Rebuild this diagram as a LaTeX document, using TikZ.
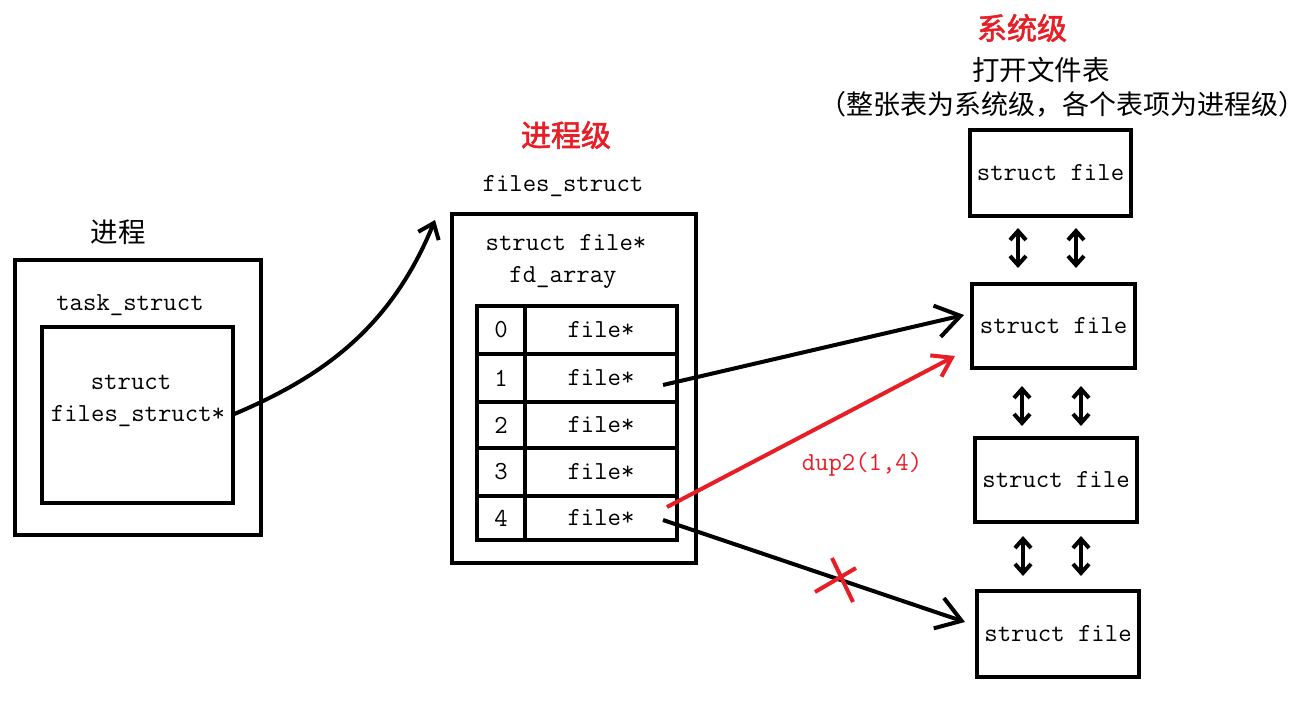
\documentclass[tikz,border=0pt]{standalone}
\usepackage{fontspec}
\setmainfont{Liberation Serif}
\newfontfamily\cjk{Noto Sans CJK SC}
\newfontfamily\cjkb[FakeBold=2]{Noto Sans CJK SC}
\usetikzlibrary{arrows.meta}
\definecolor{myred}{RGB}{232,30,38}
\tikzset{
  box/.style={draw, line width=4pt, inner sep=0pt},
  lbl/.style={inner sep=0pt, font=\ttfamily\fontsize{26}{26}\selectfont},
  zh/.style={inner sep=0pt, font=\cjk\fontsize{27.5}{27.5}\selectfont},
  ttl/.style={inner sep=0pt, text=myred, font=\cjkb\fontsize{30}{30}\selectfont},
  bigptr/.style={line width=4pt, -{Straight Barb[length=24pt,width=32pt]}},
  redptr/.style={line width=4pt, myred, -{Straight Barb[length=18pt,width=24pt]}},
  curveptr/.style={line width=4pt, -{Straight Barb[length=14pt,width=22pt]}},
  dbl/.style={line width=4pt, {Straight Barb[length=9pt,width=16pt]}-{Straight Barb[length=9pt,width=16pt]}},
  idx/.style={box, minimum width=48pt},
  cell/.style={box, minimum width=152pt},
}
\begin{document}
\begin{tikzpicture}[x=1pt,y=-1pt]
\useasboundingbox (0,0) rectangle (1308,714);

% process
\node[zh] (proclbl) at (118,232) {进程};
\node[box, minimum width=246pt, minimum height=275pt] (proc) at (138,397.5) {};
\node[lbl] (tasklbl) at (130,305) {task\_struct};
\node[box, minimum width=191pt, minimum height=176pt] (task) at (137.5,415) {};
\node[lbl] (ts1) at (131,382) {struct};
\node[lbl] (ts2) at (138,416) {files\_struct*};

% files_struct
\node[ttl] (t1) at (566,135) {进程级};
\node[lbl] (fslbl) at (563,186) {files\_struct};
\node[box, minimum width=244pt, minimum height=349pt] (fs) at (574,388.5) {};
\node[lbl] (fa1) at (566,243) {struct file*};
\node[lbl] (fa2) at (563,277) {fd\_array};

\node[idx, minimum height=48pt, lbl] (i0) at (501,330) {0};
\node[cell, minimum height=48pt, lbl] (c0) at (601,330) {file*};
\node[idx, minimum height=48pt, lbl] (i1) at (501,378) {1};
\node[cell, minimum height=48pt, lbl] (c1) at (601,378) {file*};
\node[idx, minimum height=46pt, lbl] (i2) at (501,425) {2};
\node[cell, minimum height=46pt, lbl] (c2) at (601,425) {file*};
\node[idx, minimum height=48pt, lbl] (i3) at (501,472) {3};
\node[cell, minimum height=48pt, lbl] (c3) at (601,472) {file*};
\node[idx, minimum height=44pt, lbl] (i4) at (501,518) {4};
\node[cell, minimum height=44pt, lbl] (c4) at (601,518) {file*};

% system level
\node[ttl] (t2) at (1022,28) {系统级};
\node[zh] (oft) at (1041,70) {打开文件表};
\node[zh, font=\cjk\fontsize{27}{27}\selectfont] (oftn) at (1062,104) {（整张表为系统级，各个表项为进程级）};

\node[box, minimum width=161pt, minimum height=86pt, lbl] (A) at (1050.5,173) {struct file};
\node[box, minimum width=163pt, minimum height=84pt, lbl] (B) at (1053.5,326) {struct file};
\node[box, minimum width=162pt, minimum height=84pt, lbl] (C) at (1056,480) {struct file};
\node[box, minimum width=162pt, minimum height=86pt, lbl] (D) at (1058,634) {struct file};

% double arrows
\coordinate (ab1s) at (1018,228); \coordinate (ab1e) at (1018,268);
\coordinate (ab2s) at (1076,228); \coordinate (ab2e) at (1076,268);
\coordinate (bc1s) at (1022,386); \coordinate (bc1e) at (1022,426);
\coordinate (bc2s) at (1081,386); \coordinate (bc2e) at (1081,426);
\coordinate (cd1s) at (1023,536); \coordinate (cd1e) at (1023,576);
\coordinate (cd2s) at (1081,536); \coordinate (cd2e) at (1081,576);
\draw[dbl] (ab1s) -- (ab1e);
\draw[dbl] (ab2s) -- (ab2e);
\draw[dbl] (bc1s) -- (bc1e);
\draw[dbl] (bc2s) -- (bc2e);
\draw[dbl] (cd1s) -- (cd1e);
\draw[dbl] (cd2s) -- (cd2e);

% curve from task_struct to files_struct
\coordinate (cs) at (232,415);
\coordinate (ce) at (435,220);
\draw[curveptr] (cs) .. controls (320,378) and (390,330) .. (ce);

% pointers
\coordinate (p1) at (663,385);
\coordinate (p1e) at (964,315);
\draw[bigptr] (p1) -- (p1e);
\coordinate (p4r) at (667,507);
\coordinate (p4re) at (955,356);
\draw[redptr] (p4r) -- (p4re);
\coordinate (p4) at (663,520);
\coordinate (p4e) at (965,622);
\draw[bigptr] (p4) -- (p4e);

% red cross
\coordinate (x1a) at (815,592); \coordinate (x1b) at (856,568);
\coordinate (x2a) at (832,558); \coordinate (x2b) at (853,602);
\draw[myred, line width=4pt] (x1a) -- (x1b);
\draw[myred, line width=4pt] (x2a) -- (x2b);

\node[inner sep=0pt, text=myred, font=\ttfamily\fontsize{26}{26}\selectfont] (dup) at (862,464) {dup2(1,4)};
\end{tikzpicture}
\end{document}
